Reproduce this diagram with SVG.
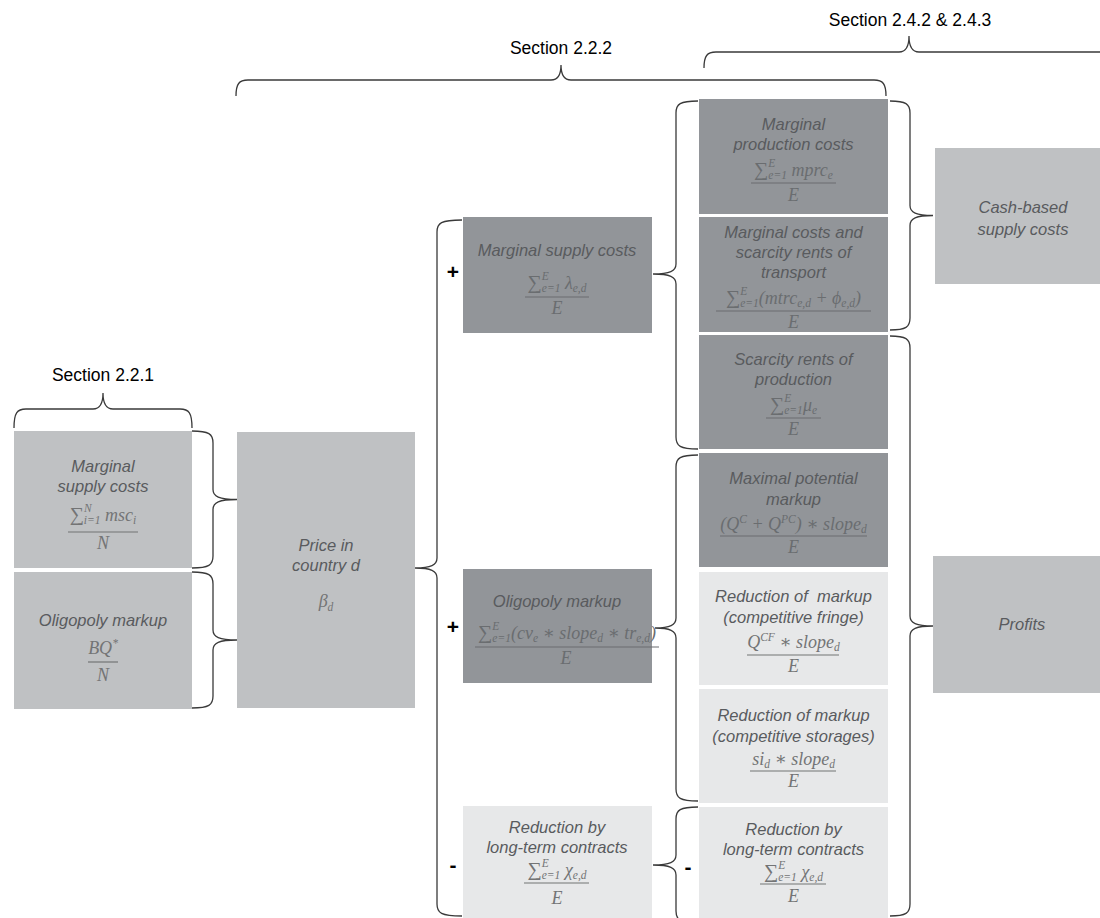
<svg xmlns="http://www.w3.org/2000/svg" width="1100" height="918" viewBox="0 0 1100 918">
<style>
.bl{fill:#bfc1c3}
.bd{fill:#929599}
.bp{fill:#e7e8e9}
.lb{font-family:"Liberation Sans",Arial,sans-serif;font-style:italic;font-size:16.5px;fill:#595b5e;text-anchor:middle}
.sec{font-family:"Liberation Sans",Arial,sans-serif;font-size:17.5px;fill:#000;text-anchor:middle}
.fm{font-family:"Liberation Serif","DejaVu Serif",serif;font-style:italic;font-size:18px;fill:#6a6d70;text-anchor:middle}
.fl{fill:#737475}
.sc{font-size:11.5px}
.sm{font-style:normal;font-size:20px}
.fr{stroke:#6a6d70;stroke-width:1.2}
.frl{stroke:#737475;stroke-width:1.2}
.br{fill:none;stroke:#3a3a3a;stroke-width:1.3}
.sg{font-family:"Liberation Sans",Arial,sans-serif;font-weight:bold;font-size:21px;fill:#000;text-anchor:middle}
</style>

<g id="connectors">
<path class="br" d="M14,428 C14,413 17,409 26,409 L93,409 C100,409 103,403 103,393 C103,403 106,409 113,409 L180,409 C189,409 192,413 192,428"/>
<path class="br" d="M236,96 C236,84 239,80 248,80 L551,80 C558,80 561,74 561,65 C561,74 564,80 571,80 L874,80 C883,80 886,84 886,96"/>
<path class="br" d="M704,68 C704,56 707,52 716,52 L899,52 C906,52 909,46 909,36 C909,46 912,52 919,52 L1102,52 C1111,52 1114,56 1114,68"/>
<path class="br" d="M192,431 C209,431 213,434 213,443 L213,489.5 C213,496.5 219,499.5 237,499.5 C219,499.5 213,502.5 213,509.5 L213,556 C213,565 209,568 192,568"/>
<path class="br" d="M192,572 C209,572 213,575 213,584 L213,630 C213,637 219,640 237,640 C219,640 213,643 213,650 L213,696 C213,705 209,708 192,708"/>
<path class="br" d="M462,220 C441,220 437,223 437,232 L437,558 C437,565 431,568 415,568 C431,568 437,571 437,578 L437,904 C437,913 441,916 462,916"/>
<path class="br" d="M698,101 C680,101 676,104 676,113 L676,264 C676,271 670,274 653,274 C670,274 676,277 676,284 L676,437 C676,446 680,449 698,449"/>
<path class="br" d="M698,455 C680,455 676,458 676,467 L676,618 C676,625 670,628 655,628 C670,628 676,631 676,638 L676,789 C676,798 680,801 698,801"/>
<path class="br" d="M698,807 C680,807 676,810 676,819 L676,855 C676,862 670,865 653,865 C670,865 676,868 676,875 L676,911 C676,920 680,923 698,923"/>
<path class="br" d="M890,101 C906,101 910,104 910,113 L910,205.5 C910,212.5 916,215.5 933,215.5 C916,215.5 910,218.5 910,225.5 L910,318 C910,327 906,330 890,330"/>
<path class="br" d="M890,336 C906,336 910,339 910,348 L910,616 C910,623 916,626 933,626 C916,626 910,629 910,636 L910,904 C910,913 906,916 890,916"/>
</g>

<g id="sections">
<text class="sec" x="910" y="26">Section 2.4.2 &amp; 2.4.3</text>
<text class="sec" x="561" y="54">Section 2.2.2</text>
<text class="sec" x="103" y="381">Section 2.2.1</text>
</g>

<g id="signs">
<text class="sg" x="453" y="279">+</text>
<text class="sg" x="453" y="634">+</text>
<text class="sg" x="453" y="872">-</text>
<text class="sg" x="688" y="874">-</text>
</g>

<g id="left-msc">
<rect class="bl" x="14" y="431" width="178" height="137"/>
<text class="lb" x="103" y="472">Marginal</text>
<text class="lb" x="103" y="492">supply costs</text>
<text class="fm fl" x="103" y="521"><tspan class="sm">∑</tspan><tspan class="sc" dy="-9">N</tspan><tspan class="sc" dx="-8" dy="12">i=1</tspan><tspan dy="-3"> msc</tspan><tspan class="sc" dy="3">i</tspan></text>
<line class="frl" x1="68" y1="532" x2="138" y2="532"/>
<text class="fm fl" x="103" y="549">N</text>
</g>

<g id="left-oligopoly">
<rect class="bl" x="14" y="572" width="178" height="137"/>
<text class="lb" x="103" y="626">Oligopoly markup</text>
<text class="fm fl" x="103" y="654">BQ<tspan class="sc" dy="-7">*</tspan></text>
<line class="frl" x1="88" y1="662" x2="118" y2="662"/>
<text class="fm fl" x="103" y="681">N</text>
</g>

<g id="price">
<rect class="bl" x="237" y="432" width="178" height="276"/>
<text class="lb" x="326" y="551">Price in</text>
<text class="lb" x="326" y="571">country d</text>
<text class="fm fl" x="326" y="607">β<tspan class="sc" dy="4">d</tspan></text>
</g>

<g id="mid-msc">
<rect class="bd" x="463" y="217" width="189" height="116"/>
<text class="lb" x="557" y="256">Marginal supply costs</text>
<text class="fm" x="557" y="289"><tspan class="sm">∑</tspan><tspan class="sc" dy="-9">E</tspan><tspan class="sc" dx="-7" dy="12">e=1</tspan><tspan dy="-3"> λ</tspan><tspan class="sc" dy="3">e,d</tspan></text>
<line class="fr" x1="525" y1="297" x2="589" y2="297"/>
<text class="fm" x="557" y="314">E</text>
</g>

<g id="mid-oligopoly">
<rect class="bd" x="463" y="569" width="189" height="114"/>
<text class="lb" x="557" y="607">Oligopoly markup</text>
<text class="fm" x="567" y="639"><tspan class="sm">∑</tspan><tspan class="sc" dy="-9">E</tspan><tspan class="sc" dx="-7" dy="12">e=1</tspan><tspan dy="-3">(cv</tspan><tspan class="sc" dy="3">e</tspan><tspan dy="-3"> ∗ slope</tspan><tspan class="sc" dy="3">d</tspan><tspan dy="-3"> ∗ tr</tspan><tspan class="sc" dy="3">e,d</tspan><tspan dy="-3">)</tspan></text>
<line class="fr" x1="475" y1="647" x2="659" y2="647"/>
<text class="fm" x="566" y="664">E</text>
</g>

<g id="mid-ltc">
<rect class="bp" x="463" y="806" width="189" height="112"/>
<text class="lb" x="557" y="833">Reduction by</text>
<text class="lb" x="557" y="853">long-term contracts</text>
<text class="fm fl" x="557" y="876"><tspan class="sm">∑</tspan><tspan class="sc" dy="-9">E</tspan><tspan class="sc" dx="-7" dy="12">e=1</tspan><tspan dy="-3"> χ</tspan><tspan class="sc" dy="3">e,d</tspan></text>
<line class="frl" x1="524" y1="883" x2="589" y2="883"/>
<text class="fm fl" x="557" y="904">E</text>
</g>

<g id="r-production">
<rect class="bd" x="699" y="99" width="189" height="115"/>
<text class="lb" x="793.5" y="130">Marginal</text>
<text class="lb" x="793.5" y="150">production costs</text>
<text class="fm" x="793.5" y="176"><tspan class="sm">∑</tspan><tspan class="sc" dy="-9">E</tspan><tspan class="sc" dx="-7" dy="12">e=1</tspan><tspan dy="-3"> mprc</tspan><tspan class="sc" dy="3">e</tspan></text>
<line class="fr" x1="751" y1="183" x2="836" y2="183"/>
<text class="fm" x="793.5" y="201">E</text>
</g>

<g id="r-transport">
<rect class="bd" x="699" y="217" width="189" height="115"/>
<text class="lb" x="793.5" y="238">Marginal costs and</text>
<text class="lb" x="793.5" y="258">scarcity rents of</text>
<text class="lb" x="793.5" y="278">transport</text>
<text class="fm" x="793.5" y="304"><tspan class="sm">∑</tspan><tspan class="sc" dy="-9">E</tspan><tspan class="sc" dx="-7" dy="12">e=1</tspan><tspan dy="-3">(mtrc</tspan><tspan class="sc" dy="3">e,d</tspan><tspan dy="-3"> + ϕ</tspan><tspan class="sc" dy="3">e,d</tspan><tspan dy="-3">)</tspan></text>
<line class="fr" x1="716" y1="311" x2="871" y2="311"/>
<text class="fm" x="793.5" y="328">E</text>
</g>

<g id="r-scarcity">
<rect class="bd" x="699" y="335" width="189" height="114"/>
<text class="lb" x="793.5" y="365">Scarcity rents of</text>
<text class="lb" x="793.5" y="385">production</text>
<text class="fm" x="793.5" y="411"><tspan class="sm">∑</tspan><tspan class="sc" dy="-9">E</tspan><tspan class="sc" dx="-7" dy="12">e=1</tspan><tspan dy="-3">μ</tspan><tspan class="sc" dy="3">e</tspan></text>
<line class="fr" x1="766" y1="418" x2="821" y2="418"/>
<text class="fm" x="793.5" y="435">E</text>
</g>

<g id="r-maximal">
<rect class="bd" x="699" y="453" width="189" height="114"/>
<text class="lb" x="793.5" y="484">Maximal potential</text>
<text class="lb" x="793.5" y="505">markup</text>
<text class="fm" x="793.5" y="530">(Q<tspan class="sc" dy="-7">C</tspan><tspan dy="7"> + Q</tspan><tspan class="sc" dy="-7">PC</tspan><tspan dy="7">) ∗ slope</tspan><tspan class="sc" dy="3">d</tspan></text>
<line class="fr" x1="720" y1="536" x2="867" y2="536"/>
<text class="fm" x="793.5" y="553">E</text>
</g>

<g id="r-fringe">
<rect class="bp" x="699" y="572" width="189" height="113"/>
<text class="lb" x="793.5" y="602" xml:space="preserve">Reduction of  markup</text>
<text class="lb" x="793.5" y="623">(competitive fringe)</text>
<text class="fm fl" x="793.5" y="648">Q<tspan class="sc" dy="-7">CF</tspan><tspan dy="7"> ∗ slope</tspan><tspan class="sc" dy="3">d</tspan></text>
<line class="frl" x1="747" y1="655" x2="839" y2="655"/>
<text class="fm fl" x="793.5" y="672">E</text>
</g>

<g id="r-storages">
<rect class="bp" x="699" y="689" width="189" height="114"/>
<text class="lb" x="793.5" y="721">Reduction of markup</text>
<text class="lb" x="793.5" y="742">(competitive storages)</text>
<text class="fm fl" x="793.5" y="765">si<tspan class="sc" dy="3">d</tspan><tspan dy="-3"> ∗ slope</tspan><tspan class="sc" dy="3">d</tspan></text>
<line class="frl" x1="750" y1="771" x2="836" y2="771"/>
<text class="fm fl" x="793.5" y="787">E</text>
</g>

<g id="r-ltc">
<rect class="bp" x="699" y="807" width="189" height="111"/>
<text class="lb" x="793.5" y="835">Reduction by</text>
<text class="lb" x="793.5" y="855">long-term contracts</text>
<text class="fm fl" x="793.5" y="878"><tspan class="sm">∑</tspan><tspan class="sc" dy="-9">E</tspan><tspan class="sc" dx="-7" dy="12">e=1</tspan><tspan dy="-3"> χ</tspan><tspan class="sc" dy="3">e,d</tspan></text>
<line class="frl" x1="760" y1="884" x2="826" y2="884"/>
<text class="fm fl" x="793.5" y="902">E</text>
</g>

<g id="cash">
<rect class="bl" x="935" y="148" width="176" height="136"/>
<text class="lb" x="1023" y="213">Cash-based</text>
<text class="lb" x="1023" y="235">supply costs</text>
</g>

<g id="profits">
<rect class="bl" x="933" y="556" width="178" height="137"/>
<text class="lb" x="1022" y="630">Profits</text>
</g>
</svg>
